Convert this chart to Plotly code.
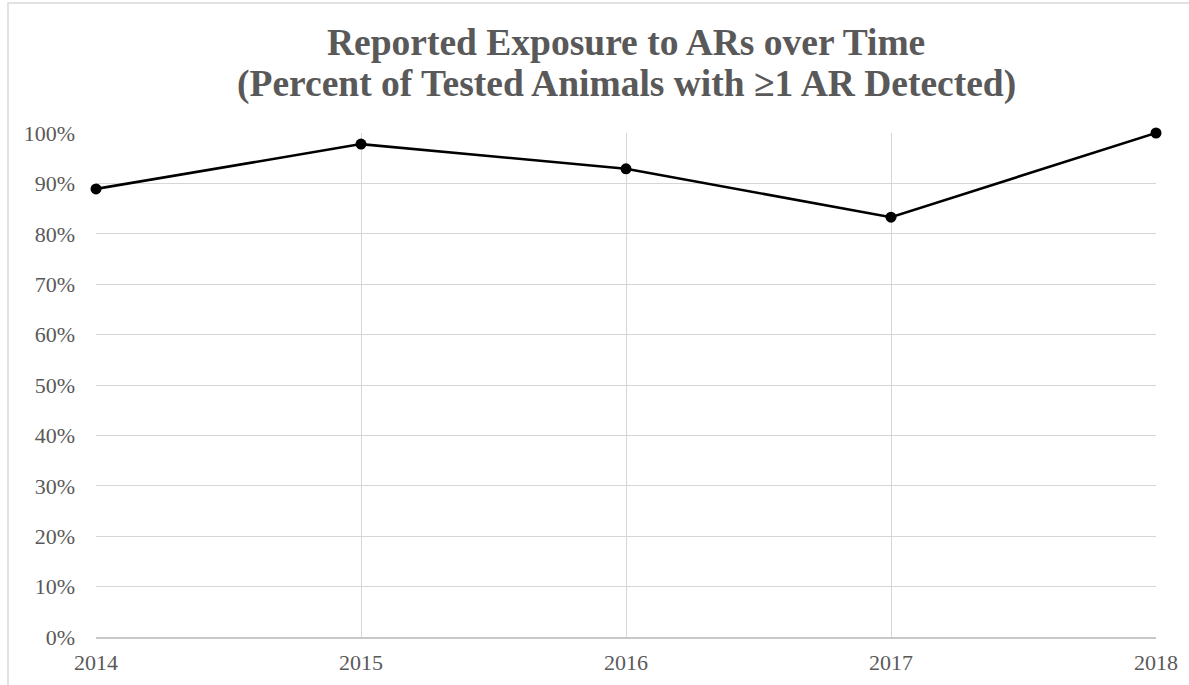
import plotly.graph_objects as go

# Share of tested animals with at least one anticoagulant rodenticide detected
years = [2014, 2015, 2016, 2017, 2018]
pct_exposed = [0.889, 0.978, 0.929, 0.833, 1.000]
y_ticks = [i / 10 for i in range(11)]
y_tick_labels = [f"{i * 10}%" for i in range(11)]
title_lines = [
    "Reported Exposure to ARs over Time",
    "(Percent of Tested Animals with ≥1 AR Detected)",
]

W, H = 1189, 685
ML, MR, MT, MB = 96, 33, 133, 48
PW, PH = W - ML - MR, H - MT - MB

def px_to_paper_x(px):
    return (px - ML) / PW

def px_to_paper_y(py):
    return (H - MB - py) / PH

fig = go.Figure()
fig.add_trace(go.Scatter(
    x=years, y=pct_exposed, mode="lines+markers",
    line=dict(color="#000000", width=2.6),
    marker=dict(color="#000000", size=11),
    cliponaxis=False, showlegend=False,
))

serif = "Liberation Serif, Times New Roman, serif"
title_font = dict(family=serif, size=37.5, color="#595959")

# Two-line chart title, centred over the plot area
annotations = [
    dict(text=f"<b>{line}</b>", xref="paper", yref="paper",
         x=0.5, xanchor="center", y=px_to_paper_y(cy), yanchor="middle",
         showarrow=False, font=title_font)
    for line, cy in zip(title_lines, [43, 84])
]

fig.update_layout(
    width=W, height=H,
    margin=dict(l=ML, r=MR, t=MT, b=MB, autoexpand=False),
    paper_bgcolor="white", plot_bgcolor="white",
    annotations=annotations,
    xaxis=dict(
        range=[2014, 2018], tickvals=years, ticktext=[str(y) for y in years],
        showgrid=True, gridcolor="#d6d6d6", gridwidth=1.4,
        showline=True, linecolor="#c8c8c8", linewidth=1.5,
        zeroline=False, ticks="", ticklabelstandoff=5, automargin=False,
        tickfont=dict(family=serif, size=22, color="#595959"),
    ),
    yaxis=dict(
        range=[0, 1], tickvals=y_ticks, ticktext=y_tick_labels,
        showgrid=True, gridcolor="#d6d6d6", gridwidth=1.4,
        zeroline=False, showline=False, ticks="", ticklabelstandoff=20,
        automargin=False,
        tickfont=dict(family=serif, size=22, color="#595959"),
    ),
    shapes=[dict(
        type="rect", xref="paper", yref="paper", layer="below",
        x0=px_to_paper_x(8), x1=px_to_paper_x(W + 10),
        y0=px_to_paper_y(H + 10), y1=px_to_paper_y(3),
        line=dict(color="#d9d9d9", width=1.5), fillcolor="rgba(0,0,0,0)",
    )],
)

fig.write_html("out.html")
